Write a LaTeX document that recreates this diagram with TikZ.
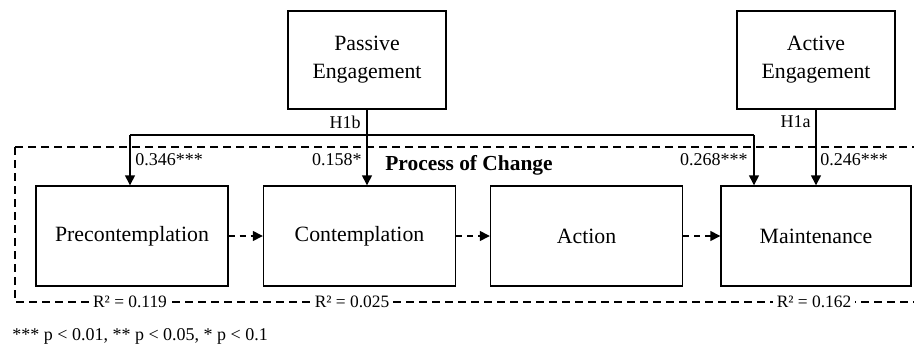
\documentclass[tikz,border=0pt]{standalone}
\usepackage{fontspec}
\setmainfont{Liberation Serif}
\usetikzlibrary{arrows.meta}

\newcommand\figfont{\fontsize{10.9}{14}\selectfont}
\newcommand\smallfig{\fontsize{9}{11}\selectfont}

\begin{document}
\begin{tikzpicture}[x=0.5pt,y=-0.5pt,font=\figfont,
	box/.style={draw, line width=0.7pt, minimum width=96pt, minimum height=50pt, inner sep=0pt, align=center},
	src/.style={box, minimum width=79pt, minimum height=49pt},
	lbl/.style={inner sep=1pt, font=\smallfig},
	rsq/.style={fill=white, inner sep=2pt, font=\fontsize{8.7}{11}\selectfont},
	pile/.style={line width=0.7pt, -{Triangle[length=5pt,width=5pt]}},
	stagearrow/.style={pile, dash pattern=on 3pt off 2.5pt},
	frame/.style={line width=0.6pt, dash pattern=on 4pt off 2.5pt}]

	\useasboundingbox (0,0) rectangle (914,348);
	\clip (0,0) rectangle (914,348);

	% Process frame
	\draw [frame] (15,147) rectangle (930,302);
	\node [font=\fontsize{10.7}{13}\selectfont\bfseries, anchor=west, inner sep=0pt] (poc) at (385,165) {Process of Change};

	% Engagement
	\node [src] (pass) at (367,60) {Passive\\Engagement};
	\node [src] (act) at (816,60) {Active\\Engagement};

	% Stages
	\node [box] (pre) at (132,236) {Precontemplation};
	\node [box] (con) at (359.5,236) {Contemplation};
	\node [box] (actn) at (586.5,236) {Action};
	\node [box, minimum width=95pt] (main) at (816,236) {Maintenance};

	% Stage arrows
	\draw [stagearrow] (pre) -- (con);
	\draw [stagearrow] (con) -- (actn);
	\draw [stagearrow] (actn) -- (main);

	% Passive paths
	\coordinate (busL) at (130,135);
	\coordinate (busR) at (754,135);
	\draw [line width=0.8pt] (busL) -- (busR);
	\draw [pile] (pass.south) -- (pass.south |- con.north);
	\draw [pile] (busL) -- (busL |- pre.north);
	\draw [pile] (busR) -- (busR |- main.north);
	\node [lbl, anchor=east] (h1b) at (363,122) {H1b};

	% Active path
	\draw [pile] (act.south) -- (main.north);
	\node [lbl, anchor=east] (h1a) at (813,122) {H1a};

	% Coefficients
	\node [lbl, anchor=west] (c1) at (133,160) {0.346***};
	\node [lbl, anchor=east] (c2) at (364,160) {0.158*};
	\node [lbl, anchor=east] (c3) at (750,160) {0.268***};
	\node [lbl, anchor=west] (c4) at (818,160) {0.246***};

	% R squared
	\node [rsq] (r1) at (130,302) {R² = 0.119};
	\node [rsq] (r2) at (352,302) {R² = 0.025};
	\node [rsq] (r3) at (814,302) {R² = 0.162};

	% Note
	\node [lbl, anchor=west] (note) at (10,336) {*** p < 0.01, ** p < 0.05, * p < 0.1};

\end{tikzpicture}
\end{document}
